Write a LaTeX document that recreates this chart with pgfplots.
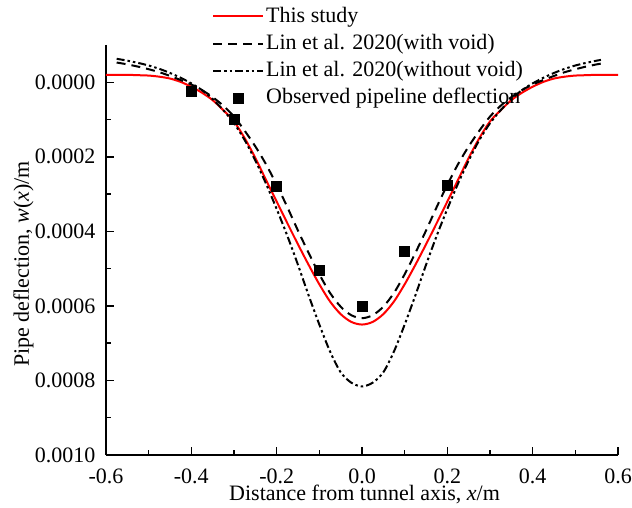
\documentclass[border=0pt]{standalone}
\usepackage{fontspec}
\setmainfont{Liberation Serif}
\usepackage{pgfplots}
\pgfplotsset{compat=1.18}
\begin{document}
\fontsize{22}{26}\selectfont
\begin{tikzpicture}
\begin{axis}[
  scale only axis,
  width=512pt, height=410pt,
  xmin=-0.6, xmax=0.6,
  ymin=-0.0001, ymax=0.001,
  y dir=reverse,
  axis x line*=bottom,
  axis y line*=left,
  axis line style={line width=1.8pt},
  tick align=inside,
  major tick length=8pt,
  minor tick length=5pt,
  every tick/.style={line width=1.5pt, black},
  xtick={-0.6,-0.4,-0.2,0,0.2,0.4,0.6},
  xticklabels={-0.6,-0.4,-0.2,0.0,0.2,0.4,0.6},
  ytick={0,0.0002,0.0004,0.0006,0.0008,0.001},
  yticklabels={0.0000,0.0002,0.0004,0.0006,0.0008,0.0010},
  minor x tick num=1,
  minor y tick num=1,
  scaled y ticks=false,
  scaled x ticks=false,
  tick label style={font=\fontsize{22}{26}\selectfont},
  xticklabel style={yshift=-6pt},
  yticklabel style={xshift=-3pt},
  label style={font=\fontsize{22}{26}\selectfont},
  xlabel={Distance from tunnel axis, \textit{x}/m},
  ylabel={Pipe deflection, \textit{w}(\textit{x})/m},
  xlabel style={at={(rel axis cs:0.505,-0.1105)}, anchor=base},
  ylabel style={at={(rel axis cs:-0.161,0.466)}, anchor=center},
  legend style={draw=none, fill=none, at={(rel axis cs:0.207,1)}, anchor=north west, yshift=40pt,
    font=\fontsize{22}{26}\selectfont, row sep=4.5pt, inner sep=0pt},
  legend cell align=left,
  legend image code/.code={\draw[mark repeat=2,mark phase=2,#1] plot coordinates {(0pt,0pt) (25pt,0pt) (50pt,0pt)};},
]
\addplot[red, line width=2pt, smooth] coordinates {
(-0.6,-0.00002) (-0.575,-0.00002) (-0.55,-0.00002) (-0.525,-0.000019) (-0.5,-0.000018)
(-0.475,-0.000015) (-0.45,-0.00001) (-0.425,-0.000001) (-0.4,0.000012) (-0.375,0.000028)
(-0.35,0.000048) (-0.325,0.000075) (-0.3,0.000105) (-0.275,0.00015) (-0.25,0.000203)
(-0.225,0.000262) (-0.2,0.00032) (-0.175,0.000378) (-0.15,0.000435) (-0.125,0.00049)
(-0.1,0.000542) (-0.075,0.000588) (-0.05,0.000622) (-0.025,0.000643) (0,0.00065)
(0.025,0.000643) (0.05,0.000622) (0.075,0.000588) (0.1,0.000542) (0.125,0.00049)
(0.15,0.000435) (0.175,0.000378) (0.2,0.00032) (0.225,0.000262) (0.25,0.000203)
(0.275,0.00015) (0.3,0.000105) (0.325,0.000075) (0.35,0.000048) (0.375,0.000028)
(0.4,0.000012) (0.425,-0.000001) (0.45,-0.00001) (0.475,-0.000015) (0.5,-0.000018)
(0.525,-0.000019) (0.55,-0.00002) (0.575,-0.00002) (0.6,-0.00002)
};
\addlegendentry{This study}
\addplot[black, line width=2pt, dash pattern=on 9pt off 6pt, smooth] coordinates {
(-0.575,-0.000053) (-0.55,-0.000048) (-0.525,-0.000042) (-0.5,-0.000035) (-0.475,-0.000027)
(-0.45,-0.000017) (-0.425,-0.000006) (-0.4,0.000006) (-0.375,0.000021) (-0.35,0.00004)
(-0.325,0.000063) (-0.3,0.000092) (-0.275,0.00013) (-0.25,0.000172) (-0.225,0.00022)
(-0.2,0.000275) (-0.175,0.000335) (-0.15,0.000398) (-0.125,0.000458) (-0.1,0.000515)
(-0.075,0.000565) (-0.05,0.000602) (-0.025,0.000625) (0,0.000633)
(0.025,0.000625) (0.05,0.000602) (0.075,0.000565) (0.1,0.000515) (0.125,0.000458)
(0.15,0.000398) (0.175,0.000335) (0.2,0.000275) (0.225,0.00022) (0.25,0.000172)
(0.275,0.00013) (0.3,0.000092) (0.325,0.000063) (0.35,0.00004) (0.375,0.000021)
(0.4,0.000006) (0.425,-0.000006) (0.45,-0.000017) (0.475,-0.000027) (0.5,-0.000035)
(0.525,-0.000042) (0.55,-0.000048) (0.56,-0.00005)
};
\addlegendentry{Lin et al. 2020(with void)}
\addplot[black, line width=2pt, dash pattern=on 8pt off 3pt on 2.5pt off 3pt on 2.5pt off 3pt, smooth] coordinates {
(-0.575,-0.000063) (-0.55,-0.000058) (-0.525,-0.000052) (-0.5,-0.000045) (-0.475,-0.000036)
(-0.45,-0.000025) (-0.425,-0.000012) (-0.4,0.000003) (-0.375,0.000021) (-0.35,0.000045)
(-0.325,0.000075) (-0.3,0.00011) (-0.275,0.000155) (-0.25,0.00021) (-0.225,0.000272)
(-0.2,0.00034) (-0.175,0.000412) (-0.15,0.00049) (-0.125,0.000572) (-0.1,0.00065)
(-0.075,0.000722) (-0.05,0.000778) (-0.025,0.000806) (0,0.000816)
(0.025,0.000806) (0.05,0.000778) (0.075,0.000722) (0.1,0.00065) (0.125,0.000572)
(0.15,0.00049) (0.175,0.000412) (0.2,0.00034) (0.225,0.000272) (0.25,0.00021)
(0.275,0.000155) (0.3,0.00011) (0.325,0.000075) (0.35,0.000045) (0.375,0.000021)
(0.4,0.000003) (0.425,-0.000012) (0.45,-0.000025) (0.475,-0.000036) (0.5,-0.000045)
(0.525,-0.000052) (0.55,-0.000058) (0.56,-0.00006)
};
\addlegendentry{Lin et al. 2020(without void)}
\addplot[only marks, mark=square*, mark size=5pt, black] coordinates {
(-0.4,0.0000233) (-0.3,0.0001) (-0.2,0.000278) (-0.1,0.000505) (0,0.0006) (0.1,0.000453) (0.2,0.000277)
};
\addlegendentry{Observed pipeline deflection}
\end{axis}
\pgfresetboundingbox
\path (current axis.south west) ++(-106pt,-53pt) rectangle ++(632pt,508pt);
\end{tikzpicture}
\end{document}
